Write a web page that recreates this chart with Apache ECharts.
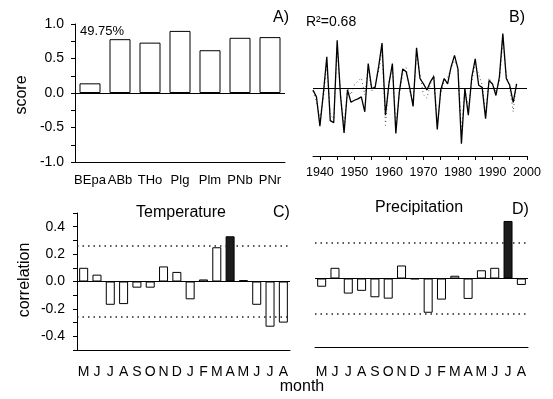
<!DOCTYPE html>
<html>
<head>
<meta charset="utf-8">
<script src="https://cdn.jsdelivr.net/npm/echarts@6/dist/echarts.min.js"></script>
<style>
html,body{margin:0;padding:0;background:#fff;}
#main{width:553px;height:399px;}
</style>
</head>
<body>
<div id="main"></div>
<script>
// A) loadings per species
var species = ["BEpa","ABb","THo","Plg","Plm","PNb","PNr"];
var scores = [0.14,0.78,0.73,0.90,0.62,0.80,0.81];
var scoreLabels = [-1,-0.5,0,0.5,1];
var scoreTicks = [-1,-0.75,-0.5,-0.25,0,0.25,0.5,0.75,1];

// B) reconstructed (solid) vs observed (dots), 1938-1997
var yearFirst = 1938, yearLast = 2000;
var recon = [-0.03,-0.13,-0.56,-0.08,0.46,-0.48,-0.51,0.70,-0.13,-0.66,
             -0.03,-0.21,-0.18,-0.16,-0.13,-0.35,0.36,-0.01,0.01,0.31,
             0.66,-0.40,0.06,0.36,-0.67,-0.06,0.28,0.24,0.01,-0.27,
             0.59,0.14,0.06,-0.03,0.09,0.17,-0.61,-0.03,0.14,0.06,
             0.31,0.48,0.28,-0.82,-0.01,-0.40,0.16,0.43,0.04,0.01,
             -0.45,0.11,0.06,-0.11,0.16,0.80,0.14,0.04,-0.21,0.06];
var observed = [-0.05,-0.20,-0.45,-0.15,0.35,-0.40,-0.45,0.60,-0.10,-0.55,
                0.00,-0.10,0.05,0.10,0.15,-0.10,0.30,-0.05,0.05,0.25,
                0.55,-0.55,0.10,0.30,-0.55,-0.10,0.20,0.30,-0.05,-0.20,
                0.50,0.20,-0.10,-0.15,0.05,0.20,-0.50,-0.10,0.10,0.15,
                0.30,0.40,0.30,-0.65,0.00,-0.30,0.10,0.35,0.20,0.05,
                -0.40,0.15,0.05,-0.05,0.10,0.70,0.20,0.00,-0.35,0.10];

// C) D) monthly correlations, May (prev.) to Aug
var months = ["M","J","J","A","S","O","N","D","J","F","M","A","M","J","J","A"];
var tempCorr = [0.10,0.05,-0.17,-0.165,-0.045,-0.045,0.11,0.07,-0.13,0.015,0.25,0.33,0.01,-0.17,-0.33,-0.30];
var precCorr = [-0.06,0.078,-0.11,-0.09,-0.137,-0.147,0.095,-0.005,-0.25,-0.154,0.02,-0.149,0.06,0.078,0.42,-0.047];
var corrLabels = [-0.4,-0.2,0,0.2,0.4];
var corrTicks = [-0.5,-0.4,-0.3,-0.2,-0.1,0,0.1,0.2,0.3,0.4,0.5];
var tempSig = 11;
var precSig = 14;
var sigLevel = 0.26;

var years = [];
for(var y=yearFirst;y<=yearLast;y++){ years.push(String(y)); }

var FONT = "Liberation Sans, Arial, sans-serif";
var NARROW = "Liberation Sans Narrow, Liberation Sans, Arial, sans-serif";

function barData(vals, sig){
 return vals.map(function(v,i){
   if(i===sig) return {value:v,itemStyle:{color:"#1c1c1c"}};
   return v;
 });
}

function refLines(withSig){
 var d = [{yAxis:0,lineStyle:{type:"solid",width:1,color:"#000"}}];
 if(withSig){
  d.push({yAxis:sigLevel,lineStyle:{type:[1.5,4],width:1.5,color:"#222"}});
  d.push({yAxis:-sigLevel,lineStyle:{type:[1.5,4],width:1.5,color:"#222"}});
 }
 return {symbol:"none",silent:true,label:{show:false},animation:false,data:d};
}

function fmt1(v){ return Number(v).toFixed(1); }

function txt(x,y,s,size,align){
 return {type:"text",x:x,y:y,style:{text:s,font:size+"px "+FONT,fill:"#000",
   textAlign:align||"left",align:align||"left",textVerticalAlign:"middle",verticalAlign:"middle"}};
}

// y axis kept for scaling only, nothing drawn
function bareY(grid,lo,hi){
 return {gridIndex:grid,type:"value",min:lo,max:hi,
  axisLine:{show:false},axisTick:{show:false},axisLabel:{show:false},splitLine:{show:false}};
}

var chart = echarts.init(document.getElementById("main"));

var option = {
 animation:false,
 textStyle:{fontFamily:FONT,color:"#000"},
 grid:[
  {left:75,top:24,width:210,height:138},
  {left:313,top:20,width:214,height:136},
  {left:77,top:213,width:213,height:137},
  {left:315,top:210,width:213,height:137}
 ],
 xAxis:[
  {gridIndex:0,type:"category",data:species,
   axisLine:{onZero:false,lineStyle:{color:"#000",width:1}},
   axisTick:{alignWithLabel:true,length:4,lineStyle:{color:"#000"}},
   axisLabel:{color:"#000",fontSize:13,fontFamily:NARROW,margin:12,interval:0}},
  {gridIndex:1,type:"category",data:years,boundaryGap:false,
   axisLine:{onZero:false,lineStyle:{color:"#000",width:1}},
   axisTick:{length:4,interval:function(i,v){return Number(v)%5===0;},lineStyle:{color:"#000"}},
   axisLabel:{color:"#000",fontSize:12.5,fontFamily:NARROW,margin:10,
     interval:function(i,v){return Number(v)%10===0;}}},
  {gridIndex:2,type:"category",data:months,
   axisLine:{onZero:false,lineStyle:{color:"#000",width:1}},
   axisTick:{alignWithLabel:true,length:5,lineStyle:{color:"#000"}},
   axisLabel:{color:"#000",fontSize:14,margin:15,interval:0}},
  {gridIndex:3,type:"category",data:months,
   axisLine:{onZero:false,lineStyle:{color:"#000",width:1}},
   axisTick:{alignWithLabel:true,length:5,lineStyle:{color:"#000"}},
   axisLabel:{color:"#000",fontSize:14,margin:18,interval:0}}
 ],
 yAxis:[
  {gridIndex:0,type:"value",min:-1,max:1,
   axisLine:{show:true,lineStyle:{color:"#000"}},
   axisTick:{show:true,length:4,customValues:scoreTicks,lineStyle:{color:"#000"}},
   splitLine:{show:false},
   axisLabel:{color:"#000",fontSize:14,margin:11,customValues:scoreLabels,formatter:fmt1}},
  bareY(1,-1,1),
  {gridIndex:2,type:"value",min:-0.5,max:0.5,
   axisLine:{show:true,lineStyle:{color:"#000"}},
   axisTick:{show:true,length:4,customValues:corrTicks,lineStyle:{color:"#000"}},
   splitLine:{show:false},
   axisLabel:{color:"#000",fontSize:14,margin:12,customValues:corrLabels,formatter:fmt1}},
  bareY(3,-0.5,0.5)
 ],
 series:[
  {type:"bar",xAxisIndex:0,yAxisIndex:0,data:scores,barWidth:21,
   itemStyle:{color:"#fff",borderColor:"#000",borderWidth:1},
   markLine:refLines(false)},
  {type:"line",xAxisIndex:1,yAxisIndex:1,data:observed,showSymbol:false,
   lineStyle:{color:"#555",width:1,type:[1,3]},z:1},
  {type:"line",xAxisIndex:1,yAxisIndex:1,data:recon,showSymbol:false,
   lineStyle:{color:"#000",width:1.3},z:2,
   markLine:refLines(false)},
  {type:"bar",xAxisIndex:2,yAxisIndex:2,data:barData(tempCorr,tempSig),barWidth:9,
   itemStyle:{color:"#fff",borderColor:"#000",borderWidth:1},
   markLine:refLines(true)},
  {type:"bar",xAxisIndex:3,yAxisIndex:3,data:barData(precCorr,precSig),barWidth:9,
   itemStyle:{color:"#fff",borderColor:"#000",borderWidth:1},
   markLine:refLines(true)}
 ],
 graphic:[
  txt(80,31,"49.75%",13),
  txt(273,18,"A)",16),
  txt(306,22,"R²=0.68",14),
  txt(509,18,"B)",16),
  txt(181,213,"Temperature",16,"center"),
  txt(273,213,"C)",16),
  txt(419,208,"Precipitation",16,"center"),
  txt(512,210,"D)",16),
  txt(302,387,"month",16,"center"),
  {type:"text",x:22,y:95,rotation:Math.PI/2,
   style:{text:"score",font:"16px "+FONT,fill:"#000",textAlign:"center",align:"center",textVerticalAlign:"middle",verticalAlign:"middle"}},
  {type:"text",x:25,y:280,rotation:Math.PI/2,
   style:{text:"correlation",font:"16px "+FONT,fill:"#000",textAlign:"center",align:"center",textVerticalAlign:"middle",verticalAlign:"middle"}}
 ]
};
chart.setOption(option);
</script>
</body>
</html>
